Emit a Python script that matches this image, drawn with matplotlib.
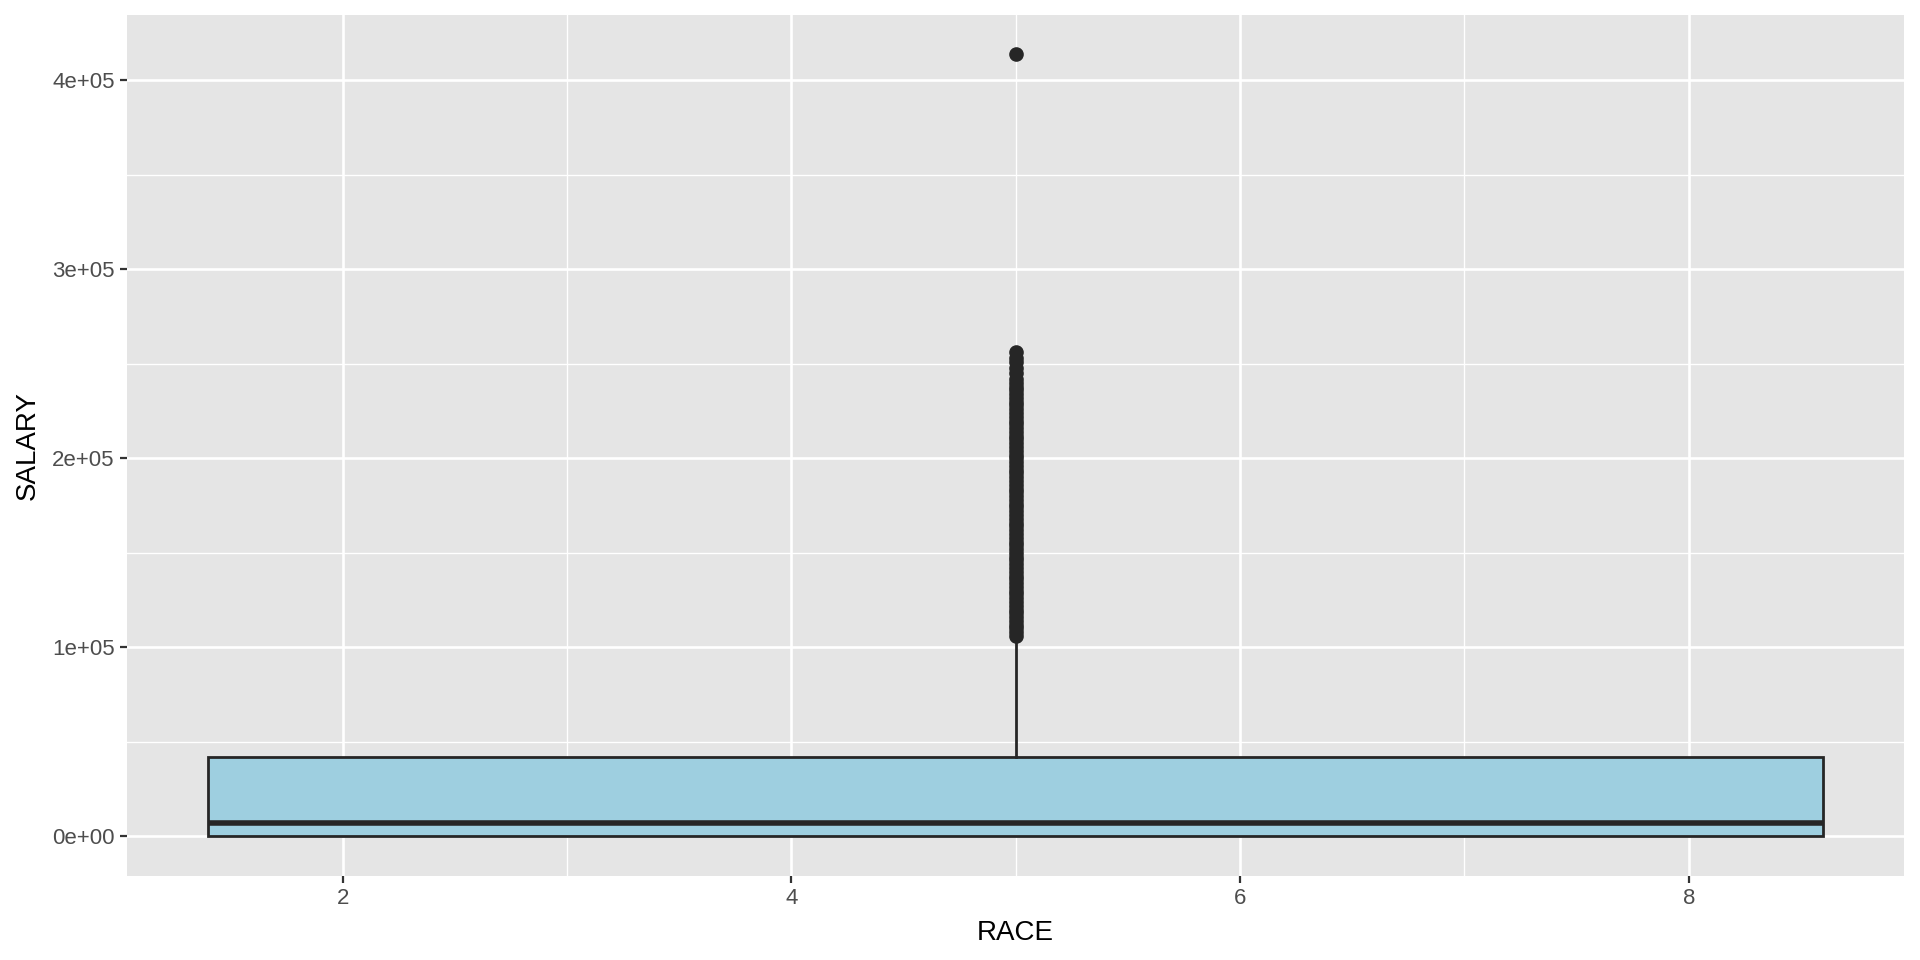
import matplotlib
matplotlib.use('Agg')
import matplotlib.pyplot as plt
from matplotlib.ticker import FixedLocator

# box summary (salary by race, one box over all races)
race_center = 5.0
box_width = 7.2
q1 = 0
median = 7100
q3 = 42100
whisker_low = 0
whisker_high = 105000

outliers = [106000, 108000, 110000, 112000, 114000, 116000, 118000, 120000,
            122000, 124000, 126000, 128000, 130000, 132000, 134000, 136000,
            138000, 140000, 142000, 144000, 146000, 148000, 150000, 152000,
            154000, 156000, 158000, 160000, 162000, 164000, 166000, 168000,
            170000, 172000, 174000, 176000, 178000, 180000, 182000, 184000,
            186000, 188000, 190000, 192000, 194000, 196000, 198000, 200000,
            202000, 204000, 206000, 208000, 210000, 212000, 214000, 216000,
            218000, 220000, 222000, 224000, 226000, 228000, 230000, 232000,
            234000, 236000, 238000, 240000, 242000, 245000, 248000, 251000,
            253000, 256000, 414000]

x_ticks = [2, 4, 6, 8]
y_ticks = [0, 100000, 200000, 300000, 400000]
y_labels = ['0e+00', '1e+05', '2e+05', '3e+05', '4e+05']

plt.rcParams['font.family'] = ['Liberation Sans', 'DejaVu Sans']

fig = plt.figure(figsize=(19.2, 9.6), dpi=100)
ax = fig.add_axes([0.0663, 0.088, 0.9254, 0.8967])
ax.set_facecolor('#E5E5E5')

stats = [{'med': median, 'q1': q1, 'q3': q3, 'whislo': whisker_low,
          'whishi': whisker_high, 'fliers': outliers}]
ax.bxp(stats, positions=[race_center], widths=box_width, patch_artist=True,
       showcaps=False, manage_ticks=False,
       boxprops=dict(facecolor='#9ECFE0', edgecolor='#262626', linewidth=2),
       medianprops=dict(color='#262626', linewidth=4, solid_capstyle='butt'),
       whiskerprops=dict(color='#262626', linewidth=2),
       flierprops=dict(marker='o', markersize=9.5, markerfacecolor='#262626',
                       markeredgecolor='#262626'),
       zorder=3)

ax.set_xlim(1.04, 8.96)
ax.set_ylim(-20700, 434700)
ax.set_xticks(x_ticks)
ax.set_yticks(y_ticks)
ax.set_yticklabels(y_labels)
ax.xaxis.set_minor_locator(FixedLocator([3, 5, 7]))
ax.yaxis.set_minor_locator(FixedLocator([50000, 150000, 250000, 350000]))

ax.grid(which='major', color='white', linewidth=1.9)
ax.grid(which='minor', color='white', linewidth=0.95)
ax.set_axisbelow(True)
for s in ax.spines.values():
    s.set_visible(False)

ax.tick_params(which='major', length=5, width=1.6, color='#333333',
               labelsize=16, labelcolor='#4D4D4D', pad=4)
ax.tick_params(which='minor', length=0)

ax.set_xlabel('RACE', fontsize=20, color='black', labelpad=8)
ax.set_ylabel('SALARY', fontsize=20, color='black', labelpad=8)

fig.savefig('out.png', dpi=100, facecolor='white')
